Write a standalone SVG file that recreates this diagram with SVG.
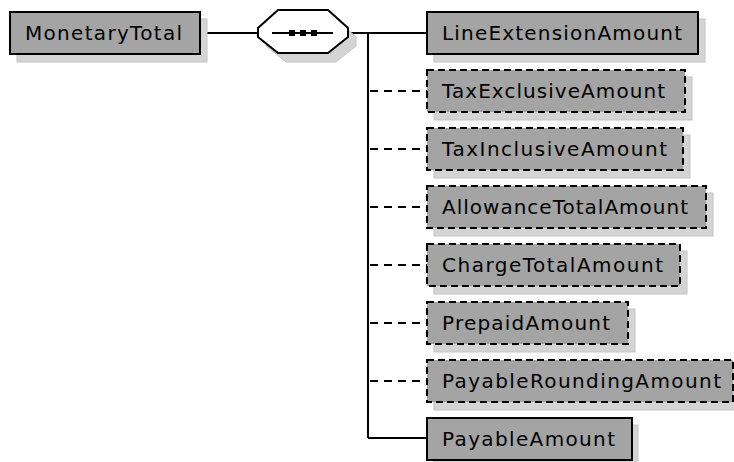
<svg xmlns="http://www.w3.org/2000/svg" width="734" height="462" viewBox="0 0 734 462">
<style>
.sh{fill:#d4d4d4;stroke:#c4c4c4;stroke-width:1}
.bx{fill:#a4a4a4;stroke:#000;stroke-width:2}
.opt{fill:#a4a4a4;stroke:#000;stroke-width:2;stroke-dasharray:7,4}
.t{font-family:"DejaVu Sans",sans-serif;font-size:20px;fill:#000}
.ln{stroke:#000;stroke-width:2;fill:none}
.dl{stroke:#000;stroke-width:2;fill:none;stroke-dasharray:8,6}
</style>
<rect width="734" height="462" fill="#fff"/>
<g id="connectors">
<line class="ln" x1="200" y1="33" x2="258" y2="33"/>
<line class="ln" x1="348" y1="33" x2="427" y2="33"/>
<line class="ln" x1="368" y1="33" x2="368" y2="438"/>
<line class="ln" x1="368" y1="438" x2="427" y2="438"/>
<line class="dl" x1="370" y1="91" x2="427" y2="91"/>
<line class="dl" x1="370" y1="149" x2="427" y2="149"/>
<line class="dl" x1="370" y1="207" x2="427" y2="207"/>
<line class="dl" x1="370" y1="265" x2="427" y2="265"/>
<line class="dl" x1="370" y1="323" x2="427" y2="323"/>
<line class="dl" x1="370" y1="381" x2="427" y2="381"/>
</g>
<g id="MonetaryTotal">
<rect class="sh" x="17" y="19" width="190" height="43"/>
<rect class="bx" x="10" y="12" width="190" height="42"/>
<text class="t" x="25" y="40" textLength="157" lengthAdjust="spacing">MonetaryTotal</text>
</g>
<g id="sequence">
<polygon class="sh" points="286,19 336,19 356,37 356,46 336,62 286,62 266,46 266,37"/>
<polygon class="ln" style="fill:#fff" points="278,10 328,10 348,28 348,37 328,53 278,53 258,37 258,28"/>
<line class="ln" x1="272" y1="33" x2="333" y2="33"/>
<rect x="289" y="30" width="6" height="6" fill="#000"/>
<rect x="300" y="30" width="6" height="6" fill="#000"/>
<rect x="311" y="30" width="6" height="6" fill="#000"/>
</g>
<g id="LineExtensionAmount">
<rect class="sh" x="434" y="19" width="271" height="43"/>
<rect class="bx" x="427" y="12" width="271" height="42"/>
<text class="t" x="442" y="40" textLength="240" lengthAdjust="spacing">LineExtensionAmount</text>
</g>
<g id="TaxExclusiveAmount">
<rect class="sh" x="434" y="77" width="258" height="43"/>
<rect class="opt" x="427" y="70" width="258" height="42"/>
<text class="t" x="442" y="98" textLength="223" lengthAdjust="spacing">TaxExclusiveAmount</text>
</g>
<g id="TaxInclusiveAmount">
<rect class="sh" x="434" y="135" width="256" height="43"/>
<rect class="opt" x="427" y="128" width="256" height="42"/>
<text class="t" x="442" y="156" textLength="225" lengthAdjust="spacing">TaxInclusiveAmount</text>
</g>
<g id="AllowanceTotalAmount">
<rect class="sh" x="434" y="193" width="279" height="43"/>
<rect class="opt" x="427" y="186" width="279" height="42"/>
<text class="t" x="442" y="214" textLength="246" lengthAdjust="spacing">AllowanceTotalAmount</text>
</g>
<g id="ChargeTotalAmount">
<rect class="sh" x="434" y="251" width="253" height="43"/>
<rect class="opt" x="427" y="244" width="253" height="42"/>
<text class="t" x="442" y="272" textLength="221" lengthAdjust="spacing">ChargeTotalAmount</text>
</g>
<g id="PrepaidAmount">
<rect class="sh" x="434" y="309" width="201" height="43"/>
<rect class="opt" x="427" y="302" width="201" height="42"/>
<text class="t" x="442" y="330" textLength="168" lengthAdjust="spacing">PrepaidAmount</text>
</g>
<g id="PayableRoundingAmount">
<rect class="sh" x="434" y="367" width="310" height="43"/>
<rect class="opt" x="427" y="360" width="306" height="42"/>
<text class="t" x="442" y="388" textLength="279" lengthAdjust="spacing">PayableRoundingAmount</text>
</g>
<g id="PayableAmount">
<rect class="sh" x="434" y="425" width="204" height="43"/>
<rect class="bx" x="427" y="418" width="205" height="42"/>
<text class="t" x="442" y="446" textLength="173" lengthAdjust="spacing">PayableAmount</text>
</g>
</svg>
